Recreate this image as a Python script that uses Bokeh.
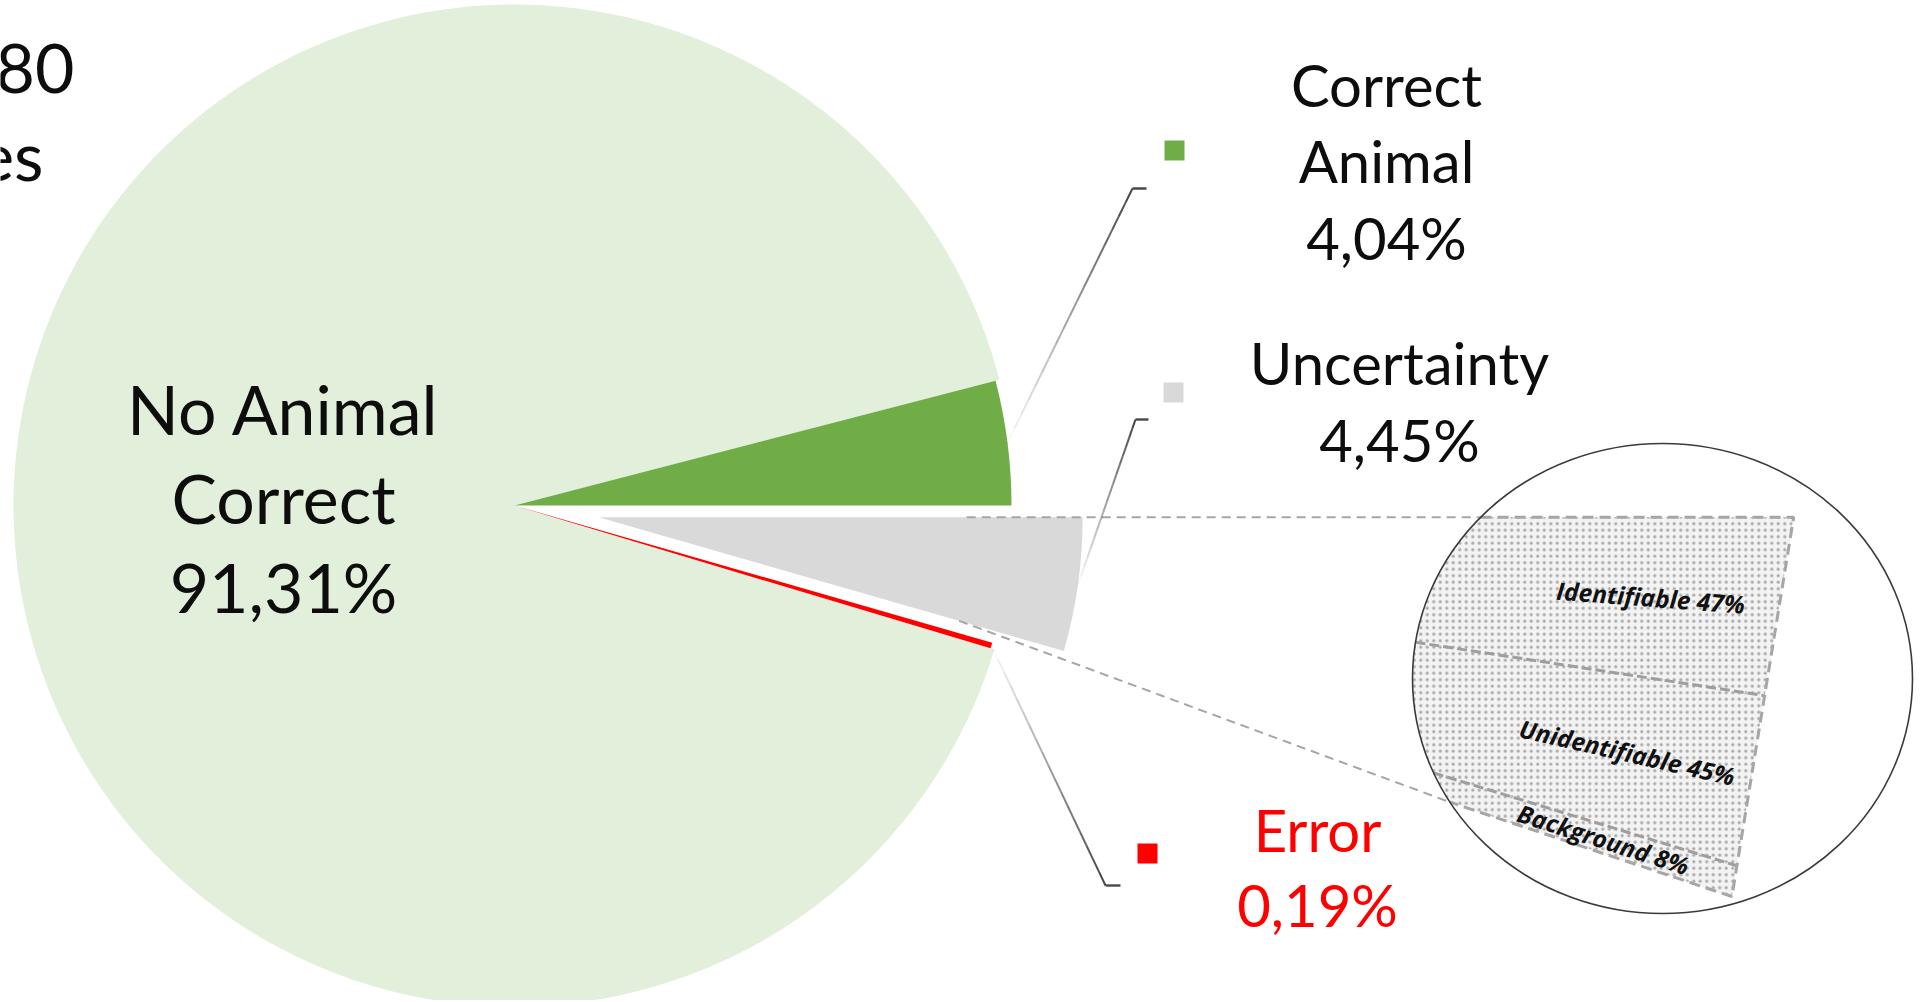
import math
import numpy as np
from bokeh.plotting import figure
from bokeh.models import Range1d
from bokeh.embed import file_html
from bokeh.resources import INLINE
from bokeh.core.properties import value

# ---------------- data ----------------
categories = ["Correct Animal", "No Animal Correct", "Error", "Uncertainty"]
shares = [4.04, 91.31, 0.19, 4.45]
uncertainty_parts = ["Identifiable", "Unidentifiable", "Background"]
uncertainty_shares = [47, 45, 8]
corner_text = ["80", "es"]

# ---------------- styles / layout ----------------
colors = {"Correct Animal": "#70AD47", "No Animal Correct": "#E2EFDA",
          "Error": "#FF0000", "Uncertainty": "#D9D9D9"}
radii = {"Correct Animal": 497, "No Animal Correct": 501, "Error": 497, "Uncertainty": 484}
explode = {"Uncertainty": 85}
label_lines = {"Correct Animal": ["Correct", "Animal"], "No Animal Correct": ["No Animal", "Correct"],
               "Uncertainty": ["Uncertainty"], "Error": ["Error"]}
# (center x, first baseline y) in screen pixels
label_pos = {"Correct Animal": (1386, 107), "No Animal Correct": (283, 435),
             "Uncertainty": (1399, 385), "Error": (1317, 852)}
label_size = {"Correct Animal": 58, "No Animal Correct": 68, "Uncertainty": 58, "Error": 58}
label_step = {"Correct Animal": 76.5, "No Animal Correct": 89, "Uncertainty": 77, "Error": 75}
label_color = {"Correct Animal": "#0d0d0d", "No Animal Correct": "#0d0d0d",
               "Uncertainty": "#0d0d0d", "Error": "#FF0000"}
legend_sq = {"Correct Animal": (1174, 150), "Uncertainty": (1173, 392), "Error": (1147, 853)}
elbows = {"Correct Animal": [(1132, 188), (1146, 188)],
          "Uncertainty": [(1135, 419), (1148, 419)],
          "Error": [(1105, 885), (1120, 885)]}

FIG_W, FIG_H = 1920, 1000
FONT = "Lato"
BASE_FIX = 0.40  # em; renderer places the alphabetic baseline this much lower


def Y(ys):
    return FIG_H - ys


def base(y_screen, size):
    return Y(y_screen - BASE_FIX * size)


p = figure(width=FIG_W, height=FIG_H, output_backend="svg", toolbar_location=None,
           x_range=Range1d(0, FIG_W), y_range=Range1d(0, FIG_H),
           x_axis_location=None, y_axis_location=None, min_border=0)
p.outline_line_color = None
p.grid.visible = False
p.background_fill_color = "white"

# ---------------- pie ----------------
cx, cy = 514, Y(505)
vals = np.array(shares, dtype=float)
frac = vals / vals.sum()
ends = np.cumsum(frac) * 2 * math.pi
starts = ends - frac * 2 * math.pi
slice_info = {}
for name, s, e in zip(categories, starts, ends):
    mid = (s + e) / 2
    d = explode.get(name, 0)
    ox, oy = cx + d * math.cos(mid), cy + d * math.sin(mid)
    slice_info[name] = (ox, oy, s, e, mid)

order = ["No Animal Correct", "Correct Animal", "Error", "Uncertainty"]
for name in order:
    ox, oy, s, e, mid = slice_info[name]
    p.wedge(x=[ox], y=[oy], radius=radii[name], start_angle=[s], end_angle=[e],
            fill_color=colors[name], line_color=None)

# ---------------- inset (breakdown of Uncertainty) ----------------
gx, gy, gs, ge, gmid = slice_info["Uncertainty"]
INSET_SPAN = math.radians(18.5)
R_OUT = 1195
ecx, ecy, ea, eb = 1662, Y(678), 250, 235

P0 = (gx + R_OUT * math.cos(0.0), gy + R_OUT * math.sin(0.0))
P1 = (gx + R_OUT * math.cos(-INSET_SPAN), gy + R_OUT * math.sin(-INSET_SPAN))


def entry(theta):
    ux, uy = math.cos(theta), math.sin(theta)
    dx, dy = gx - ecx, gy - ecy
    A = (ux / ea) ** 2 + (uy / eb) ** 2
    B = 2 * (dx * ux / ea ** 2 + dy * uy / eb ** 2)
    C = (dx / ea) ** 2 + (dy / eb) ** 2 - 1
    t = (-B - math.sqrt(B * B - 4 * A * C)) / (2 * A)
    return gx + t * ux, gy + t * uy


def chord(theta):
    # intersection of the ray from the apex with the straight outer edge P0-P1
    ux, uy = math.cos(theta), math.sin(theta)
    vx, vy = P1[0] - P0[0], P1[1] - P0[1]
    wx, wy = P0[0] - gx, P0[1] - gy
    den = ux * vy - uy * vx
    t = (wx * vy - wy * vx) / den
    return gx + t * ux, gy + t * uy


def ray(theta, r):
    return gx + r * math.cos(theta), gy + r * math.sin(theta)


ufrac = np.array(uncertainty_shares, dtype=float)
ufrac = ufrac / ufrac.sum()
ucum = np.concatenate([[0], np.cumsum(ufrac)])
bounds = [-INSET_SPAN * c for c in ucum]

for i in range(len(uncertainty_parts)):
    ta, tb = bounds[i], bounds[i + 1]
    ths = np.linspace(ta, tb, 40)
    pts = [entry(t) for t in ths] + [chord(tb), chord(ta)]
    p.patch([q[0] for q in pts], [q[1] for q in pts], fill_color="#F3F3F3", line_color=None,
            hatch_pattern="dot", hatch_color="#a9a9a9", hatch_scale=6.5, hatch_weight=1.4)

# internal dividers
for t in bounds[1:-1]:
    a, b = entry(t), chord(t)
    p.line([a[0], b[0]], [a[1], b[1]], line_color="#9E9E9E", line_width=3, line_dash="10 4")

# dashed outline
e0, e1 = entry(bounds[0]), entry(bounds[-1])
p.line([e0[0], P0[0], P1[0], e1[0]], [e0[1], P0[1], P1[1], e1[1]],
       line_color="#A6A6A6", line_width=3, line_dash="11 6")

# connectors from the Uncertainty slice to the inset
c1a = ray(0.0, 368)
c2a = ray(gs, 375)
p.line([c1a[0], e0[0]], [c1a[1], e0[1]], line_color="#A6A6A6", line_width=2, line_dash="9 6")
p.line([c2a[0], e1[0]], [c2a[1], e1[1]], line_color="#A6A6A6", line_width=2, line_dash="9 6")

# magnifier circle
p.ellipse(x=[ecx], y=[ecy], width=2 * ea, height=2 * eb, fill_color=None,
          line_color="#3a3a3a", line_width=1.6)

# inset labels
R_LAB = 1055
for name, v, ta, tb in zip(uncertainty_parts, uncertainty_shares, bounds[:-1], bounds[1:]):
    m = (ta + tb) / 2
    lx, ly = ray(m, R_LAB)
    p.text(x=[lx], y=[ly], text=[f"{name} {v}%"], angle=m,
           text_font=value("Open Sans"), text_font_style="bold italic",
           text_font_size="24.5px", text_color="#111111",
           text_align="center", text_baseline="middle")

# ---------------- leader lines and legend squares ----------------
N = 18
for name in ["Correct Animal", "Uncertainty", "Error"]:
    ox, oy, s, e, mid = slice_info[name]
    r = radii[name]
    sx, sy = ox + r * math.cos(mid), oy + r * math.sin(mid)
    (ex, ey), (hx, hy) = elbows[name]
    ey, hy = Y(ey), Y(hy)
    t = np.linspace(0, 1, N + 1)
    x0 = sx + (ex - sx) * t[:-1]
    y0 = sy + (ey - sy) * t[:-1]
    x1 = sx + (ex - sx) * t[1:]
    y1 = sy + (ey - sy) * t[1:]
    alphas = list(np.linspace(0.03, 0.9, N))
    p.segment(x0=list(x0), y0=list(y0), x1=list(x1), y1=list(y1),
              line_color="#333333", line_alpha=alphas, line_width=2)
    p.line([ex, hx], [ey, hy], line_color="#333333", line_width=2.4, line_alpha=0.9)
    qx, qy = legend_sq[name]
    p.scatter(x=[qx], y=[Y(qy)], marker="square", size=20,
              fill_color=colors[name], line_color=None)

# ---------------- labels ----------------
for name, v in zip(categories, shares):
    lines = label_lines[name] + [f"{v:.2f}".replace(".", ",") + "%"]
    bx0, by0 = label_pos[name]
    sz = label_size[name]
    ys = [base(by0 + i * label_step[name], sz) for i in range(len(lines))]
    p.text(x=[bx0] * len(lines), y=ys, text=lines, text_font=value(FONT),
           text_font_size=f"{sz}px", text_color=label_color[name],
           text_align="center", text_baseline="alphabetic")

# clipped corner text (top-left)
p.text(x=[74, 43], y=[base(95, 68), base(181, 68)], text=corner_text, text_font=value(FONT),
       text_font_size="68px", text_color="#0d0d0d",
       text_align="right", text_baseline="alphabetic")

open("out.html", "w").write(file_html(p, INLINE))
